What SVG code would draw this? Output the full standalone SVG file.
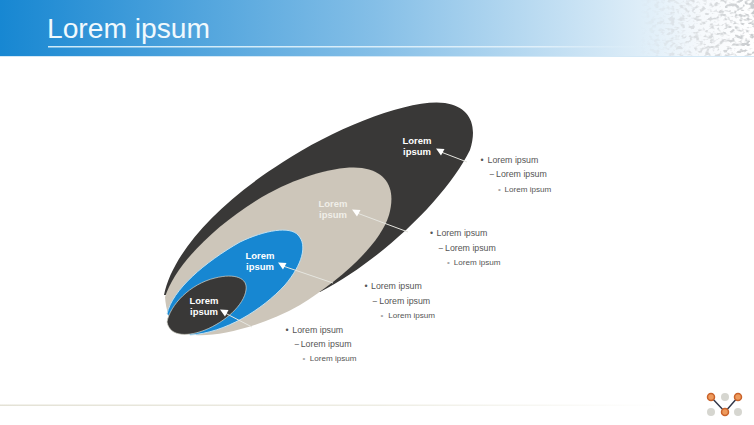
<svg xmlns="http://www.w3.org/2000/svg" width="754" height="425" viewBox="0 0 754 425">
<style>
.h{font:700 9.5px "Liberation Sans",Arial,sans-serif;fill:#fff;text-anchor:middle}
.t{font:8.800px "Liberation Sans",Arial,sans-serif;fill:#555}
.s{font:8.100px "Liberation Sans",Arial,sans-serif;fill:#555}
.d{fill:#a8a8a8}
.c{stroke:#e6e6e0;stroke-width:1;fill:none;marker-start:url(#a)}
.o{fill:#ee9a5c;stroke:#c9622a;stroke-width:1.500}
.g{fill:#d6d6d0}
</style>
<defs>
<linearGradient id="g"><stop offset="0" stop-color="#1787d2"/><stop offset=".5" stop-color="#85bfe7"/><stop offset=".87" stop-color="#e3f0f9"/><stop offset=".93" stop-color="#f6f9fc"/><stop offset="1" stop-color="#fff"/></linearGradient>
<linearGradient id="f"><stop offset="0" stop-color="#e4e2d6"/><stop offset=".5" stop-color="#eeede4"/><stop offset=".88" stop-color="#fff"/></linearGradient>
<linearGradient id="l"><stop offset="0" stop-color="#cdeaf8"/><stop offset=".8" stop-color="#e0f0fa"/><stop offset="1" stop-color="#e0f0fa" stop-opacity="0"/></linearGradient>
<marker id="a" markerWidth="10" markerHeight="10" refX="5" refY="4" orient="0" markerUnits="userSpaceOnUse"><path d="M0 .5L8.500 1L5 7.500Z" fill="#fff"/></marker>
<filter id="nf" x="0" y="0" width="1" height="1"><feTurbulence type="fractalNoise" baseFrequency=".2 .28" numOctaves="2" seed="11"/><feColorMatrix values="0 0 0 0 .58 0 0 0 0 .6 0 0 0 0 .62 3.500 3.500 0 0 -3.400"/><feGaussianBlur stdDeviation=".4"/></filter>
<linearGradient id="m"><stop offset="0" stop-color="#000"/><stop offset=".3" stop-color="#666"/><stop offset="1" stop-color="#fff"/></linearGradient>
<mask id="k" maskUnits="userSpaceOnUse" x="640" y="0" width="114" height="56"><rect x="640" width="114" height="56" fill="url(#m)"/></mask>
</defs>
<g id="header">
<rect width="754" height="56" fill="url(#g)"/>
<rect y="56" width="754" height="1" fill="#d3e8f6"/>
<g mask="url(#k)"><rect x="640" width="114" height="56" filter="url(#nf)"/></g>
<rect x="48" y="46" width="620" height="1.500" fill="url(#l)"/>
<text x="47" y="38" font-family="Liberation Sans,Arial,sans-serif" font-size="28.200" fill="#f0f9fd">Lorem ipsum</text>
</g>
<g id="shapes">
<path id="e1" d="M164 295C172 255 215 205 283 162C335 128 410 98 445 103C470 107 478 125 470 150C448 195 385 258 320 292Z" fill="#393837"/>
<path id="e2" d="M165 297C175 265 215 225 262 197C300 175 340 165 362 168C388 172 396 190 389 215C380 245 340 280 300 305C265 325 220 337 195 335C180 333 167 325 165 297Z" fill="#cdc6ba"/>
<path id="e3" d="M167 314C172 290 205 262 240 242C265 230 290 226 298 235C308 245 302 265 285 285C262 310 225 333 190 335Z" fill="#1787d2" stroke="#bfe0f2"/>
<path id="e4" d="M167 322C170 305 190 284 215 278C235 273 248 278 246 290C244 305 225 322 205 330C190 336 170 338 167 322Z" fill="#393837" stroke="#d6d6cc" stroke-width=".7"/>
</g>
<g id="connectors">
<path class="c" d="M441 152L467 162"/>
<path class="c" d="M357 213L408 232"/>
<path class="c" d="M283 266L333 283"/>
<path class="c" d="M225 313L252 327"/>
</g>
<g id="n1"><text class="h" x="417" y="144">Lorem</text><text class="h" x="417" y="154.500">ipsum</text></g>
<g id="n2"><text class="h" x="333" y="207" style="fill:#f0eee8">Lorem</text><text class="h" x="333" y="218" style="fill:#f0eee8">ipsum</text></g>
<g id="n3"><text class="h" x="260" y="259">Lorem</text><text class="h" x="260" y="270">ipsum</text></g>
<g id="n4"><text class="h" x="204" y="304">Lorem</text><text class="h" x="204" y="315">ipsum</text></g>
<g id="l1"><text class="t" y="162.500"><tspan x="480.500">•</tspan><tspan x="487.500">Lorem ipsum</tspan></text><text class="t" y="177"><tspan x="489">−</tspan><tspan x="496">Lorem ipsum</tspan></text><text class="s" y="191.500"><tspan class="d" x="498">•</tspan><tspan x="504.500">Lorem ipsum</tspan></text></g>
<g id="l2"><text class="t" y="235.500"><tspan x="430">•</tspan><tspan x="436.500">Lorem ipsum</tspan></text><text class="t" y="250.500"><tspan x="438">−</tspan><tspan x="445">Lorem ipsum</tspan></text><text class="s" y="264.500"><tspan class="d" x="447">•</tspan><tspan x="453.700">Lorem ipsum</tspan></text></g>
<g id="l3"><text class="t" y="289"><tspan x="364.500">•</tspan><tspan x="371">Lorem ipsum</tspan></text><text class="t" y="304"><tspan x="372">−</tspan><tspan x="379.300">Lorem ipsum</tspan></text><text class="s" y="318"><tspan class="d" x="380.500">•</tspan><tspan x="388.300">Lorem ipsum</tspan></text></g>
<g id="l4"><text class="t" y="332.500"><tspan x="285.500">•</tspan><tspan x="292.300">Lorem ipsum</tspan></text><text class="t" y="347"><tspan x="294">−</tspan><tspan x="300.700">Lorem ipsum</tspan></text><text class="s" y="361"><tspan class="d" x="302.500">•</tspan><tspan x="309.700">Lorem ipsum</tspan></text></g>
<g id="footer"><rect y="404.500" width="754" height="1.500" fill="url(#f)"/></g>
<g id="logo">
<circle class="g" cx="725" cy="397" r="4"/><circle class="g" cx="711" cy="412" r="4"/><circle class="g" cx="738" cy="412" r="4"/>
<path d="M711 397L725 412L738 397" fill="none" stroke="#33384a" stroke-width="1.500"/>
<circle class="o" cx="711" cy="397" r="3.500"/><circle class="o" cx="738" cy="397" r="3.500"/><circle class="o" cx="725" cy="412" r="3.500"/>
</g>
</svg>
